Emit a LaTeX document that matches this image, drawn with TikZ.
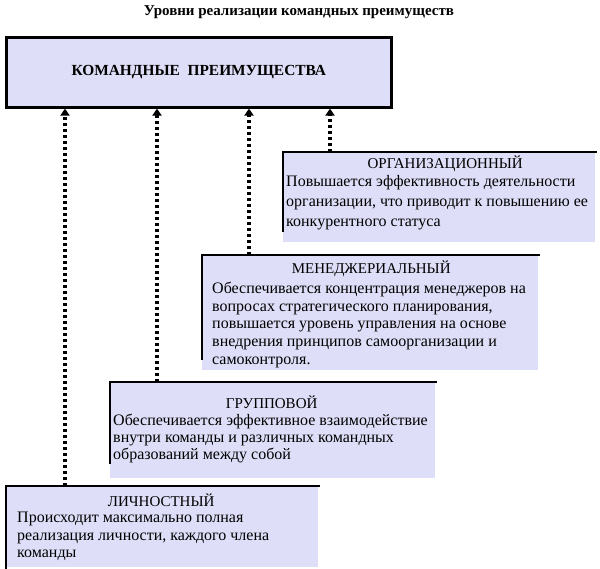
\documentclass[tikz,border=0pt]{standalone}
\usepackage{fontspec}
\setmainfont{Liberation Serif}
\usetikzlibrary{arrows.meta}
\definecolor{lav}{RGB}{222,222,248}
\tikzset{
  lvlbox/.style={fill=lav, draw=none, inner sep=0pt, anchor=north west},
  edgeline/.style={line width=2.6pt, line cap=rect},
  arr/.style={line width=3.2pt, dash pattern=on 3pt off 3pt, -{Triangle[width=9pt,length=7pt]}},
  ttl/.style={font=\fontsize{15}{18}\selectfont, inner sep=0pt},
  bodytext/.style={align=left, inner sep=0pt, anchor=north west},
}
\begin{document}
\begin{tikzpicture}[x=1pt,y=-1pt]
\useasboundingbox (0,0) rectangle (600,569);
\node[font=\fontsize{15}{17}\selectfont\bfseries, inner sep=0pt] (title) at (299,12) {Уровни реализации командных преимуществ};
\node[fill=lav, draw, line width=2.6pt, minimum width=385pt, minimum height=70pt, anchor=north west, inner sep=0pt, font=\fontsize{15.4}{18}\selectfont\bfseries] (cmd) at (5,36) {КОМАНДНЫЕ\ \ ПРЕИМУЩЕСТВА};

% ORG
\node[lvlbox, minimum width=312pt, minimum height=90pt] (org) at (283,152) {};
\draw[edgeline] ([yshift=12pt]org.south west) -- (org.north west) -- (org.north east);
\node[ttl] (orgT) at ([xshift=6pt,yshift=-12pt]org.north) {ОРГАНИЗАЦИОННЫЙ};
\node[bodytext, font=\fontsize{16}{20}\selectfont] (orgB) at ([xshift=3pt,yshift=-23pt]org.north west) {Повышается эффективность деятельности\\организации, что приводит к повышению ее\\конкурентного статуса};

% MGR
\node[lvlbox, minimum width=336pt, minimum height=115pt] (mgr) at (202,255) {};
\draw[edgeline] ([yshift=12pt]mgr.south west) -- (mgr.north west) -- (mgr.north east);
\node[ttl] (mgrT) at ([xshift=1pt,yshift=-14pt]mgr.north) {МЕНЕДЖЕРИАЛЬНЫЙ};
\node[bodytext, font=\fontsize{16}{17.6}\selectfont] (mgrB) at ([xshift=10pt,yshift=-27pt]mgr.north west) {Обеспечивается концентрация менеджеров на\\вопросах стратегического планирования,\\повышается уровень управления на основе\\внедрения принципов самоорганизации и\\самоконтроля.};

% GRP
\node[lvlbox, minimum width=325pt, minimum height=96pt] (grp) at (110,382) {};
\draw[edgeline] ([yshift=16pt]grp.south west) -- (grp.north west) -- (grp.north east);
\node[ttl] (grpT) at ([xshift=-1pt,yshift=-20pt]grp.north) {ГРУППОВОЙ};
\node[bodytext, font=\fontsize{16}{16.7}\selectfont] (grpB) at ([xshift=3pt,yshift=-32pt]grp.north west) {Обеспечивается эффективное взаимодействие\\внутри команды и различных командных\\образований между собой};

% LICH
\node[lvlbox, minimum width=312pt, minimum height=81pt] (lich) at (6,486) {};
\draw[edgeline] (lich.south west) -- (lich.north west) -- (lich.north east);
\node[ttl] (lichT) at ([xshift=-1pt,yshift=-14pt]lich.north) {ЛИЧНОСТНЫЙ};
\node[bodytext, font=\fontsize{16}{17.6}\selectfont] (lichB) at ([xshift=11pt,yshift=-26pt]lich.north west) {Происходит максимально полная\\реализация личности, каждого члена\\команды};

% arrows
\draw[arr] ([xshift=59pt]lich.north west) -- ([xshift=59pt]lich.north west |- cmd.south);
\draw[arr] ([xshift=47pt]grp.north west) -- ([xshift=47pt]grp.north west |- cmd.south);
\draw[arr] ([xshift=47pt]mgr.north west) -- ([xshift=47pt]mgr.north west |- cmd.south);
\draw[arr] ([xshift=47pt]org.north west) -- ([xshift=47pt]org.north west |- cmd.south);
\end{tikzpicture}
\end{document}
